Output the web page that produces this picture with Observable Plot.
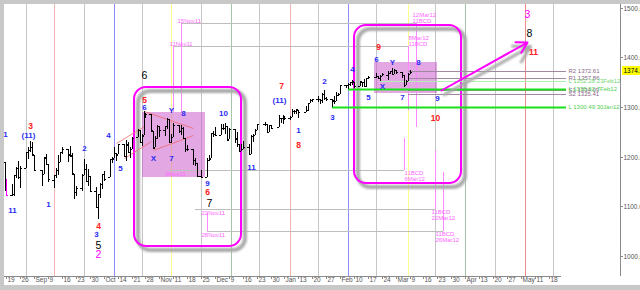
<!DOCTYPE html>
<html><head><meta charset="utf-8">
<script src="https://cdn.jsdelivr.net/npm/d3@7"></script>
<script src="https://cdn.jsdelivr.net/npm/@observablehq/plot@0.6"></script>
<style>
html,body{margin:0;padding:0;background:#c8c8c8;overflow:hidden;}
#wrap{padding:4px 0 5px 4px;width:636px;height:281px;}
#wrap svg{display:block;background:#fff;}
</style></head><body><div id="wrap"></div>
<script>
// ---------- DATA ----------
const barDates = ["2011-08-18","2011-08-19","2011-08-22","2011-08-23","2011-08-24","2011-08-25","2011-08-26","2011-08-29","2011-08-30","2011-08-31",
"2011-09-01","2011-09-02","2011-09-06","2011-09-07","2011-09-08","2011-09-09","2011-09-12","2011-09-13","2011-09-14","2011-09-15","2011-09-16",
"2011-09-19","2011-09-20","2011-09-21","2011-09-22","2011-09-23","2011-09-26","2011-09-27","2011-09-28","2011-09-29","2011-09-30",
"2011-10-03","2011-10-04","2011-10-05","2011-10-06","2011-10-07","2011-10-10","2011-10-11","2011-10-12","2011-10-13","2011-10-14",
"2011-10-17","2011-10-18","2011-10-19","2011-10-20","2011-10-21","2011-10-24","2011-10-25","2011-10-26","2011-10-27","2011-10-28","2011-10-31",
"2011-11-01","2011-11-02","2011-11-03","2011-11-04","2011-11-07","2011-11-08","2011-11-09","2011-11-10","2011-11-11",
"2011-11-14","2011-11-15","2011-11-16","2011-11-17","2011-11-18","2011-11-21","2011-11-22","2011-11-23","2011-11-25",
"2011-11-28","2011-11-29","2011-11-30","2011-12-01","2011-12-02","2011-12-05","2011-12-06","2011-12-07","2011-12-08","2011-12-09",
"2011-12-12","2011-12-13","2011-12-14","2011-12-15","2011-12-16","2011-12-19","2011-12-20","2011-12-21","2011-12-22","2011-12-23",
"2011-12-27","2011-12-28","2011-12-29","2011-12-30","2012-01-03","2012-01-04","2012-01-05","2012-01-06","2012-01-09","2012-01-10",
"2012-01-11","2012-01-12","2012-01-13","2012-01-17","2012-01-18","2012-01-19","2012-01-20","2012-01-23","2012-01-24","2012-01-25",
"2012-01-26","2012-01-27","2012-01-30","2012-01-31","2012-02-01","2012-02-02","2012-02-03","2012-02-06","2012-02-07","2012-02-08",
"2012-02-09","2012-02-10","2012-02-13","2012-02-14","2012-02-15","2012-02-16","2012-02-17","2012-02-21","2012-02-22","2012-02-23",
"2012-02-24","2012-02-27","2012-02-28","2012-02-29","2012-03-01","2012-03-02","2012-03-05","2012-03-06","2012-03-07","2012-03-08","2012-03-09"];
const barOpen = [1189.62,1140.47,1123.55,1124.36,1162.16,1176.69,1158.85,1177.91,1209.76,1213.00,
1219.12,1203.90,1173.97,1165.85,1197.98,1185.37,1153.50,1162.59,1173.32,1189.44,1209.21,
1214.99,1204.50,1203.63,1164.55,1128.82,1136.91,1163.32,1175.39,1151.74,1159.93,
1131.21,1097.42,1124.03,1144.11,1165.03,1158.15,1194.60,1196.19,1206.96,1205.65,
1224.47,1200.75,1223.46,1209.92,1215.39,1238.72,1254.19,1229.17,1243.97,1284.39,1284.96,
1251.00,1219.62,1238.25,1260.82,1253.21,1261.12,1275.18,1229.59,1240.12,
1263.85,1251.70,1257.81,1236.56,1216.19,1215.62,1192.98,1187.48,1161.41,
1158.67,1192.56,1196.72,1246.91,1246.03,1244.33,1257.19,1258.14,1260.87,1234.48,
1255.05,1236.83,1225.73,1212.12,1216.09,1219.74,1205.72,1241.25,1243.72,1254.00,
1265.02,1265.38,1249.75,1262.82,1258.86,1277.03,1277.30,1280.93,1277.83,1280.77,
1292.02,1292.48,1294.82,1290.22,1293.65,1308.07,1314.49,1315.29,1315.96,1314.40,
1326.28,1318.25,1316.16,1313.53,1312.45,1324.24,1326.21,1344.32,1344.33,1347.04,
1349.97,1351.21,1343.06,1351.30,1350.52,1342.61,1358.06,1361.22,1362.11,1357.53,
1363.46,1365.20,1367.56,1372.20,1365.90,1374.09,1369.59,1363.63,1343.39,1352.65,1365.97];
const barHigh = [1189.62,1154.54,1145.49,1162.35,1178.56,1190.68,1181.23,1210.08,1220.10,1230.71,
1229.29,1203.90,1173.97,1198.62,1204.40,1185.37,1162.52,1176.41,1202.38,1209.11,1220.06,
1214.99,1220.39,1206.30,1164.55,1141.72,1164.19,1195.86,1184.71,1175.87,1159.93,
1138.99,1125.12,1146.07,1165.55,1171.40,1194.91,1199.24,1220.25,1207.46,1224.61,
1224.47,1233.10,1229.64,1219.53,1239.03,1256.55,1254.19,1246.28,1292.66,1287.08,1284.96,
1251.00,1242.48,1263.21,1260.82,1261.70,1277.55,1275.18,1246.22,1266.98,
1263.85,1264.25,1259.61,1237.73,1223.51,1215.62,1196.81,1187.48,1172.66,
1197.35,1203.67,1247.11,1251.09,1260.08,1266.73,1266.03,1267.06,1260.87,1258.25,
1255.05,1249.86,1225.73,1225.60,1231.04,1224.57,1242.82,1245.09,1255.22,1265.42,
1269.37,1265.85,1263.54,1264.12,1284.62,1278.73,1283.05,1281.84,1281.99,1296.46,
1293.80,1296.82,1294.82,1303.00,1308.11,1315.49,1315.38,1322.28,1315.96,1328.30,
1333.47,1320.06,1316.16,1321.41,1330.52,1329.19,1345.34,1344.36,1349.24,1351.00,
1354.32,1351.21,1353.35,1351.30,1355.87,1359.02,1363.40,1367.76,1362.70,1364.24,
1368.92,1371.94,1373.09,1378.04,1376.17,1374.53,1369.59,1363.63,1354.85,1368.72,1374.76];
const barLow = [1131.03,1122.05,1121.09,1121.09,1156.30,1155.47,1135.91,1177.91,1195.77,1209.35,
1203.85,1170.56,1140.13,1165.85,1183.34,1148.37,1136.07,1157.44,1162.73,1189.44,1204.46,
1188.36,1201.19,1166.21,1114.22,1121.36,1131.07,1163.32,1150.40,1139.93,1131.34,
1098.92,1074.77,1115.68,1134.95,1150.26,1158.15,1187.30,1196.19,1190.58,1205.65,
1198.55,1191.48,1206.31,1197.34,1215.39,1238.72,1226.79,1221.06,1243.97,1277.01,1253.16,
1215.42,1219.62,1234.81,1238.92,1240.75,1254.99,1226.64,1227.70,1240.12,
1246.68,1244.34,1235.67,1209.43,1211.36,1183.16,1181.65,1161.79,1158.66,
1158.67,1191.80,1196.72,1239.73,1243.35,1244.33,1253.03,1244.80,1231.47,1234.48,
1227.25,1219.43,1209.47,1212.12,1215.20,1202.37,1205.72,1229.51,1243.72,1254.00,
1262.30,1248.64,1249.75,1257.46,1258.86,1268.10,1265.26,1273.34,1274.55,1280.77,
1285.41,1285.77,1277.58,1290.22,1290.99,1308.07,1309.17,1309.89,1306.06,1307.65,
1313.60,1311.72,1300.49,1306.69,1312.45,1321.57,1326.21,1337.52,1335.92,1341.95,
1344.63,1337.35,1343.06,1340.83,1340.80,1341.22,1357.24,1358.11,1355.53,1352.28,
1363.46,1354.92,1365.97,1363.81,1365.90,1366.42,1359.13,1340.03,1343.39,1352.65,1365.97];
const barClose = [1140.65,1123.53,1123.82,1162.35,1177.60,1159.27,1176.80,1210.08,1212.92,1218.89,
1204.42,1173.97,1165.24,1198.62,1185.90,1154.23,1162.27,1172.87,1188.68,1209.11,1216.01,
1204.09,1202.09,1166.76,1129.56,1136.43,1162.95,1175.38,1151.06,1160.40,1131.42,
1099.23,1123.95,1144.03,1164.97,1155.46,1194.89,1195.54,1207.25,1203.66,1224.58,
1200.86,1225.38,1209.88,1215.39,1238.25,1254.19,1229.05,1242.00,1284.59,1285.09,1253.30,
1218.28,1237.90,1261.15,1253.23,1261.12,1275.92,1229.10,1239.70,1263.85,
1251.78,1257.81,1236.91,1216.13,1215.65,1192.98,1188.04,1161.79,1158.67,
1192.55,1195.19,1246.96,1244.58,1244.28,1257.08,1258.47,1261.01,1234.35,1255.19,
1236.47,1225.73,1211.82,1215.75,1219.66,1205.35,1241.30,1243.72,1254.00,1265.33,
1265.43,1249.64,1263.02,1257.60,1277.06,1277.30,1281.06,1277.81,1280.70,1292.08,
1292.48,1295.50,1289.09,1293.67,1308.04,1314.50,1315.38,1316.00,1314.65,1326.06,
1318.43,1316.33,1313.01,1312.41,1324.09,1325.54,1344.90,1344.33,1347.05,1349.96,
1351.95,1342.64,1351.77,1350.50,1343.23,1358.04,1361.23,1362.21,1357.66,1363.46,
1365.74,1367.59,1372.18,1365.68,1374.09,1369.63,1364.33,1343.36,1352.63,1365.91,1370.87];
const highlightBars = ["2011-08-19"];

const newMoons = ["2011-08-29","2011-09-27","2011-10-26","2011-11-25","2011-12-24","2012-01-23","2012-02-21","2012-03-22","2012-04-21","2012-05-20"];
const fullMoons = ["2011-09-12","2011-10-12","2011-11-10","2011-12-10","2012-01-09","2012-02-07","2012-03-08","2012-04-06","2012-05-06"];
const fullMoonColors = ["#f4b4b4","#8c8cff","#ffff8c","#a8c4a8","#f4b4b4","#8c8cff","#ffff8c","#a8c4a8","#f08c8c"];

const tickLabels = ["19","26","Sep","9","16","23","30","Oct","14","21","28","Nov","11","18","25","Dec","9","16","23","30","Jan","13","20","27","Feb","10","17","24","Mar","9","16","23","30","Apr","13","20","27","May","11","18"];
const firstTick = "2011-08-19";
const axisEnd = "2012-05-24";
const yTicks = [1000, 1100, 1200, 1300, 1400, 1500];
const lastPrice = 1374.0;

const boxes = [
  {x1:"2011-10-22", x2:"2011-12-15", y1:1019.8, y2:1340.3},
  {x1:"2012-02-10", x2:"2012-04-04", y1:1146.8, y2:1465.3}
];
const pinkZones = [
  {x1:"2011-10-26", x2:"2011-11-27", y1:1158.66, y2:1290},
  {x1:"2012-02-20", x2:"2012-03-23", y1:1328, y2:1391}
];
const trendLines = [
  {d1:"2011-10-27", v1:1292.7, d2:"2011-11-21", v2:1257.7},
  {d1:"2011-11-01", v1:1213.3, d2:"2011-11-21", v2:1243.5},
  {d1:"2011-10-13", v1:1227, d2:"2011-10-27", v2:1262},
  {d1:"2011-10-17", v1:1197, d2:"2011-10-31", v2:1231}
];

const cdLeftDates = ["2011-11-15","2011-11-11","2011-11-09","2011-11-22","2011-11-28"];
const cdRightDates = ["2012-03-12","2012-03-08","2012-03-06","2012-03-22","2012-03-26"];
const cdLevels = [1469, 1423, 1173, 1094, 1049];
const cdLeftText = ["15Nov11","11Nov11","9Nov11","22Nov11","28Nov11"];
const cdLeftTextAt = ["2011-11-13","2011-11-09","2011-11-07","2011-11-25","2011-11-25"];
const cdRightText = ["12Mar12\n11BCD","8Mar12\n11BCD","11BCD\n6Mar12","11BCD\n22Mar12","11BCD\n26Mar12"];
const cdRightTextAt = ["2012-03-10","2012-03-08","2012-03-06","2012-03-20","2012-03-22"];
const cdAbove = [true, true, false, false, false];
const cdStems = [
  {d:"2011-11-15", v1:1469, v2:1290}, {d:"2011-11-11", v1:1423, v2:1290},
  {d:"2011-11-28", v1:1086, v2:1049}, {d:"2012-03-12", v1:1469, v2:1260},
  {d:"2012-03-08", v1:1423, v2:1294}, {d:"2012-03-06", v1:1237, v2:1173},
  {d:"2012-03-22", v1:1213, v2:1094}, {d:"2012-03-26", v1:1169, v2:1049}
];

const levelEnd = "2012-05-27";
const greenLines = [
  {d:"2012-01-30", v:1300.49, label:"L 1300.49 30Jan12", w:2, c:"#19e019", tc:"#50d050"},
  {d:"2012-02-07", v:1335.92, label:"L 1335.92 7Feb12", w:2, c:"#19e019", tc:"#50d050"},
  {d:"2012-02-23", v:1352.28, label:"L 1352.28 23Feb12", w:1, c:"#b0f0b0", tc:"#70d870"}
];
const pivotStart = "2012-03-08";
const pivotLines = [
  {v:1372.61, label:"R2 1372.61"}, {v:1357.86, label:"R1 1357.86"},
  {v:1334.09, label:"S1 1334.09"}, {v:1325.41, label:"S2 1325.41"}
];
const arrows = [{d1:"2012-03-25", v1:1334.3, d2:"2012-05-07", v2:1431}];

const blueWave = [
  {d:"2011-08-18",v:1246,t:"1"},{d:"2011-08-30",v:1243,t:"(11)"},{d:"2011-08-22",v:1092,t:"11"},
  {d:"2011-09-09",v:1104,t:"1"},{d:"2011-09-27",v:1217,t:"2"},{d:"2011-10-09",v:1243,t:"4"},
  {d:"2011-10-15",v:1177,t:"5"},{d:"2011-10-03",v:1044,t:"3"},{d:"2011-10-27",v:1300,t:"6"},
  {d:"2011-11-10",v:1294,t:"Y"},{d:"2011-11-16",v:1288,t:"8"},{d:"2011-11-01",v:1197,t:"X"},
  {d:"2011-11-10",v:1197,t:"7"},{d:"2011-12-06",v:1288,t:"10"},{d:"2011-11-28",v:1147,t:"9"},
  {d:"2011-12-20",v:1179,t:"11"},{d:"2012-01-03",v:1314,t:"(11)"},{d:"2012-01-13",v:1254,t:"1"},
  {d:"2012-01-26",v:1352,t:"2"},{d:"2012-01-30",v:1280,t:"3"},{d:"2012-02-09",v:1377,t:"4"},
  {d:"2012-02-21",v:1397,t:"6"},{d:"2012-02-29",v:1391,t:"Y"},{d:"2012-03-13",v:1391,t:"8"},
  {d:"2012-02-24",v:1342,t:"X"},{d:"2012-02-17",v:1320,t:"5"},{d:"2012-03-05",v:1320,t:"7"},
  {d:"2012-03-23",v:1318,t:"9"}
];
const redWave = [
  {d:"2011-08-31",v:1262,t:"3"},{d:"2011-10-04",v:1060,t:"4"},{d:"2011-10-27",v:1314,t:"5"},
  {d:"2011-11-28",v:1129,t:"6"},{d:"2012-01-04",v:1342,t:"7"},{d:"2012-01-13",v:1223,t:"8"},
  {d:"2012-02-22",v:1421,t:"9"},{d:"2012-03-22",v:1278,t:"10"},{d:"2012-05-10",v:1411,t:"11"}
];
const blackWave = [
  {d:"2011-10-27",v:1364,t:"6"},{d:"2011-10-04",v:1022,t:"5"},
  {d:"2011-11-29",v:1106,t:"7"},{d:"2012-05-08",v:1449,t:"8"}
];
const magentaWave = [
  {d:"2011-10-04",v:1004,t:"2"},{d:"2012-05-07",v:1487,t:"3"}
];

// ---------- BUILD ----------
const DAY = 864e5;
const P = s => new Date(s + "T00:00:00Z");
const addDays = (d, n) => new Date(+d + n * DAY);
const bars = barDates.map((s, i) => ({date: P(s), o: barOpen[i], h: barHigh[i], l: barLow[i], c: barClose[i],
  col: highlightBars.includes(s) ? "#ff00ff" : "#000"}));
const ticks = tickLabels.map((t, i) => ({date: addDays(P(firstTick), 7 * i), t}));
const xStart = new Date(Date.UTC(2011, 7, 19) - 1.259 * DAY);
const xEnd = new Date(+xStart + 310.22 * DAY);
const yMin = 959.27, yMax = 1507.66;
const cd = cdLevels.map((v, i) => ({v, l: P(cdLeftDates[i]), r: P(cdRightDates[i]),
  la: P(cdLeftTextAt[i]), ra: P(cdRightTextAt[i]), lt: cdLeftText[i], rt: cdRightText[i], above: cdAbove[i]}));
const F = "Liberation Sans, Arial, sans-serif";
const lineEndD = P(levelEnd);

const chart = Plot.plot({
  width: 636, height: 281,
  marginLeft: 0, marginRight: 20, marginTop: 0, marginBottom: 9,
  x: {type: "utc", domain: [xStart, xEnd], round: true, axis: null},
  y: {domain: [yMin, yMax], axis: null, round: true},
  color: {type: "identity"},
  style: {background: "white", fontFamily: F},
  marks: [
    Plot.ruleX(newMoons, {x: d => P(d), stroke: "#c6c6c6"}),
    Plot.ruleX(fullMoons.map((s, i) => ({d: P(s), c: fullMoonColors[i]})), {x: "d", stroke: "c"}),
    Plot.rect(pinkZones, {x1: d => P(d.x1), x2: d => P(d.x2), y1: "y1", y2: "y2", fill: "#c850c8", fillOpacity: 0.5}),
    Plot.ruleY(cd, {y: "v", x1: "l", x2: "r", stroke: "#bdbdbd"}),
    Plot.ruleX(cdStems, {x: d => P(d.d), y1: "v1", y2: "v2", stroke: "#ff88ff"}),
    Plot.text(cd.filter(d => d.above), {x: "la", y: "v", text: "lt", dy: -1, textAnchor: "start", lineAnchor: "bottom", fontSize: 6, fill: "#ff66ff"}),
    Plot.text(cd.filter(d => !d.above), {x: "la", y: "v", text: "lt", dy: 1, textAnchor: "start", lineAnchor: "top", fontSize: 6, fill: "#ff66ff"}),
    Plot.text(cd.filter(d => d.above), {x: "ra", y: "v", text: "rt", dy: -1, textAnchor: "start", lineAnchor: "bottom", lineHeight: 0.9, fontSize: 6, fill: "#ff66ff"}),
    Plot.text(cd.filter(d => !d.above), {x: "ra", y: "v", text: "rt", dy: 1, textAnchor: "start", lineAnchor: "top", lineHeight: 0.9, fontSize: 6, fill: "#ff66ff"}),
    Plot.rect(boxes, {x1: d => P(d.x1), x2: d => P(d.x2), y1: "y1", y2: "y2", rx: 12, fill: "none", stroke: "#a9a9a9", strokeWidth: 4, dx: 4, dy: 4, ariaLabel: "shadow"}),
    Plot.rect(boxes, {x1: d => P(d.x1), x2: d => P(d.x2), y1: "y1", y2: "y2", rx: 12, fill: "none", stroke: "#ff00ff", strokeWidth: 2}),
    Plot.link(trendLines, {x1: d => P(d.d1), y1: "v1", x2: d => P(d.d2), y2: "v2", stroke: "#f06868", strokeWidth: 0.8}),
    Plot.ruleY(pivotLines, {y: "v", x1: () => P(pivotStart), x2: () => lineEndD, stroke: "#a088a0"}),
    Plot.ruleY(greenLines, {y: "v", x1: d => P(d.d), x2: () => lineEndD, stroke: "c", strokeWidth: "w"}),
    Plot.text(pivotLines, {x: () => lineEndD, y: "v", text: "label", dx: 2, textAnchor: "start", fontSize: 6, fill: "#886888"}),
    Plot.text(greenLines, {x: () => lineEndD, y: "v", text: "label", dx: 2, textAnchor: "start", fontSize: 6, fill: "tc"}),
    Plot.ruleX(bars, {x: "date", y1: "l", y2: "h", stroke: "col", clip: true}),
    Plot.ruleY(bars, {y: "o", x1: d => addDays(d.date, -1), x2: "date", stroke: "col", clip: true}),
    Plot.ruleY(bars, {y: "c", x1: "date", x2: d => addDays(d.date, 1), stroke: "col", clip: true}),
    Plot.arrow(arrows, {x1: d => P(d.d1), y1: "v1", x2: d => P(d.d2), y2: "v2", stroke: "#a9a9a9", strokeWidth: 3, dx: 3, dy: 4, headLength: 9, ariaLabel: "shadow"}),
    Plot.arrow(arrows, {x1: d => P(d.d1), y1: "v1", x2: d => P(d.d2), y2: "v2", stroke: "#ff00ff", strokeWidth: 2, headLength: 9}),
    Plot.text(blueWave, {x: d => P(d.d), y: "v", text: "t", fill: "#2a2af5", fontSize: 8, fontWeight: "bold"}),
    Plot.text(redWave, {x: d => P(d.d), y: "v", text: "t", fill: "#ff2020", fontSize: 8.5, fontWeight: "bold"}),
    Plot.text(blackWave, {x: d => P(d.d), y: "v", text: "t", fill: "#000", fontSize: 10.5}),
    Plot.text(magentaWave, {x: d => P(d.d), y: "v", text: "t", fill: "#ff00ff", fontSize: 10.5}),
    // axes
    Plot.ruleY([yMin], {x1: () => xStart, x2: () => P(axisEnd), stroke: "#8a8a8a"}),
    Plot.ruleX(ticks, {x: "date", y1: () => yMin, y2: () => yMin, insetBottom: -3, stroke: "#8a8a8a"}),
    Plot.text(ticks, {x: "date", text: "t", frameAnchor: "bottom", dy: 5, dx: 1, textAnchor: "start", fontSize: 6.5, fill: "#555"}),
    Plot.ruleX([xEnd], {x: d => d, stroke: "#8a8a8a"}),
    Plot.ruleY(yTicks, {y: d => d, x1: () => xEnd, x2: () => xEnd, insetRight: -3, stroke: "#8a8a8a"}),
    Plot.text(yTicks, {y: d => d, text: d => d.toFixed(1), frameAnchor: "right", dx: 3, textAnchor: "start", fontSize: 6.5, fill: "#555"}),
    Plot.ruleY([lastPrice], {y: d => d, x1: () => xEnd, x2: () => xEnd, insetLeft: 2, insetRight: -22, stroke: "#ffff00", strokeWidth: 9}),
    Plot.text([lastPrice], {y: d => d, text: d => d.toFixed(1), frameAnchor: "right", dx: 3, textAnchor: "start", fontSize: 6.5, fill: "#000"})
  ]
});
document.getElementById("wrap").appendChild(chart);

// soft shadow
const svg = d3.select(chart);
const defs = svg.insert("defs", ":first-child");
defs.append("filter").attr("id", "soft").attr("x", "-20%").attr("y", "-20%").attr("width", "140%").attr("height", "140%")
  .append("feGaussianBlur").attr("stdDeviation", 1.3);
svg.selectAll('g[aria-label="shadow"], g[stroke="#a9a9a9"]').attr("filter", "url(#soft)");
</script></body></html>
